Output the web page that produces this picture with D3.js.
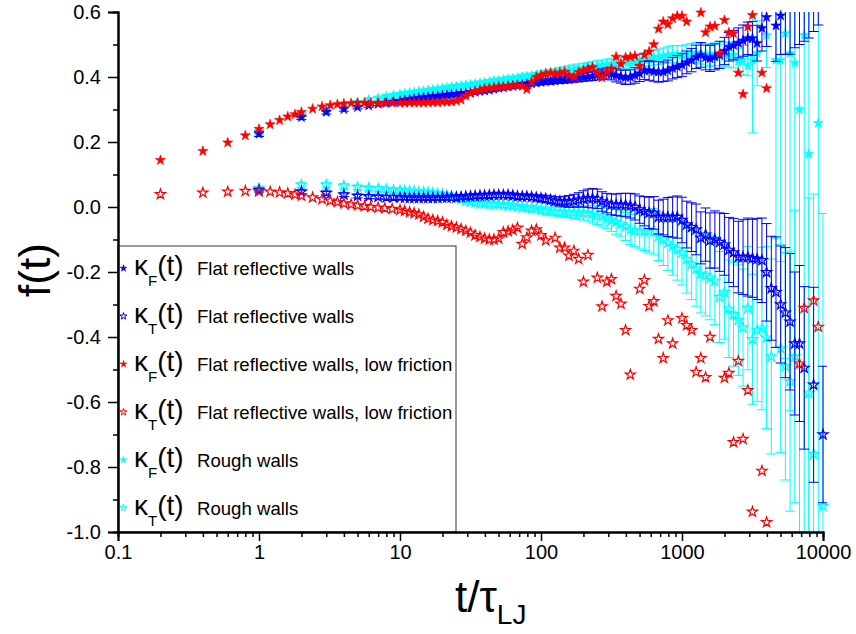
<!DOCTYPE html>
<html>
<head>
<meta charset="utf-8">
<script src="https://cdn.jsdelivr.net/npm/d3@7"></script>
<style>
  body { margin: 0; background: #fff; }
  svg text { font-family: Arial, "Liberation Sans", sans-serif; fill: #000; }
</style>
</head>
<body>
<svg id="chart" width="856" height="634"></svg>
<script>
// ---- time grids (t / tau_LJ) ----
const tEarly = [1, 2, 3, 4, 5, 6, 7, 8, 9];
const tRedEarly = [0.2, 0.4, 0.6, 0.8, 1.0, 1.2, 1.4, 1.6, 1.8, 2.0,
  2.4, 2.8, 3.2, 3.6, 4, 4.5, 5, 5.6, 6.2, 7, 7.8, 8.8];
const tLog = [
  10, 10.8, 11.7, 12.6, 13.6, 14.7, 15.8, 17.1, 18.5, 20, 21.5, 23.2, 25.1, 27.1, 29.3,
  31.6, 34.1, 36.9, 39.8, 43, 46.4, 50.1, 54.1, 58.4, 63.1, 68.1, 73.6, 79.4, 85.8, 92.6,
  100, 108, 117, 126, 136, 147, 158, 171, 185, 200, 215, 232, 251, 271, 293,
  316, 341, 369, 398, 430, 464, 501, 541, 584, 631, 681, 736, 794, 858, 926,
  1000, 1080, 1170, 1260, 1360, 1470, 1580, 1710, 1850, 2000, 2150, 2320, 2510, 2710, 2930,
  3160, 3410, 3690, 3980, 4300, 4640, 5010, 5410, 5840, 6310, 6810, 7360, 7940, 8580, 9260,
  10000];
const tWalls = tEarly.concat(tLog);      // flat reflective + rough walls
const tLowFric = tRedEarly.concat(tLog); // low friction walls

// ---- kappa_F, flat reflective walls ----
const kappaF_flat = [
  0.225, 0.276, 0.292, 0.301, 0.307, 0.312, 0.317, 0.320, 0.323,
  0.326, 0.328, 0.331, 0.333, 0.335, 0.337, 0.338, 0.340, 0.341, 0.343, 0.344, 0.346, 0.347, 0.349, 0.350,
  0.352, 0.354, 0.356, 0.358, 0.360, 0.363, 0.366, 0.368, 0.370, 0.372, 0.374, 0.376, 0.378, 0.380, 0.382,
  0.384, 0.386, 0.387, 0.389, 0.390, 0.392, 0.393, 0.395, 0.397, 0.399, 0.401, 0.403, 0.406, 0.409, 0.411,
  0.409, 0.405, 0.401, 0.399, 0.400, 0.405, 0.411, 0.420, 0.420, 0.417, 0.416, 0.416, 0.420, 0.427, 0.432,
  0.437, 0.445, 0.452, 0.462, 0.468, 0.460, 0.457, 0.462, 0.468, 0.480, 0.493, 0.498, 0.505, 0.512, 0.519,
  0.519, 0.504, 0.550, 0.584, null, 0.558, 0.589, 0.63, 0.66, 0.69, 0.72, 0.76, 0.80, 0.84, 0.88,
  0.92];
const kappaF_flatErr = [
  0.008, 0.007, 0.006, 0.006, 0.005, 0.005, 0.005, 0.005, 0.005,
  0.005, 0.005, 0.005, 0.005, 0.005, 0.005, 0.005, 0.005, 0.005, 0.005, 0.006, 0.006, 0.006, 0.006, 0.006,
  0.006, 0.006, 0.006, 0.006, 0.006, 0.007, 0.007, 0.007, 0.007, 0.007, 0.007, 0.007, 0.007, 0.007, 0.007,
  0.008, 0.008, 0.009, 0.009, 0.010, 0.010, 0.011, 0.011, 0.012, 0.012, 0.013, 0.014, 0.015, 0.016, 0.017,
  0.018, 0.020, 0.020, 0.022, 0.022, 0.024, 0.025, 0.028, 0.030, 0.030, 0.032, 0.030, 0.032, 0.033, 0.034,
  0.035, 0.035, 0.036, 0.036, 0.038, 0.038, 0.040, 0.040, 0.042, 0.042, 0.044, 0.045, 0.046, 0.048, 0.050,
  0.052, 0.055, 0.070, 0.090, null, 0.110, 0.120, 0.160, 0.190, 0.200, 0.220, 0.250, 0.280, 0.300, 0.320,
  0.300];

// ---- kappa_T, flat reflective walls ----
const kappaT_flat = [
  0.052, 0.047, 0.043, 0.038, 0.034, 0.032, 0.031, 0.030, 0.030,
  0.029, 0.029, 0.028, 0.028, 0.028, 0.028, 0.028, 0.028, 0.028, 0.029, 0.029, 0.030, 0.030, 0.031, 0.032,
  0.033, 0.034, 0.035, 0.035, 0.036, 0.037, 0.037, 0.037, 0.037, 0.035, 0.033, 0.032, 0.032, 0.031, 0.029,
  0.027, 0.025, 0.022, 0.019, 0.017, 0.017, 0.017, 0.019, 0.022, 0.025, 0.027, 0.027, 0.025, 0.017, 0.012,
  0.008, 0.007, 0.007, 0.006, 0.004, 0.000, -0.008, -0.013, -0.018, -0.018, -0.031, -0.031, -0.031, -0.031, -0.031,
  -0.040, -0.054, -0.062, -0.069, -0.095, -0.085, -0.103, -0.100, -0.108, -0.115, -0.132, -0.140, -0.154, -0.154, -0.154,
  -0.158, -0.160, -0.164, -0.201, -0.250, -0.262, -0.300, -0.325, -0.353, -0.420, -0.420, -0.495, null, -0.547, null,
  -0.700];
const kappaT_flatErr = [
  0.006, 0.006, 0.006, 0.006, 0.006, 0.006, 0.006, 0.006, 0.006,
  0.006, 0.006, 0.006, 0.006, 0.006, 0.006, 0.006, 0.006, 0.006, 0.006, 0.007, 0.007, 0.007, 0.007, 0.007,
  0.007, 0.007, 0.007, 0.007, 0.007, 0.008, 0.008, 0.008, 0.008, 0.008, 0.008, 0.008, 0.008, 0.008, 0.008,
  0.010, 0.011, 0.012, 0.013, 0.014, 0.016, 0.018, 0.020, 0.022, 0.025, 0.028, 0.030, 0.030, 0.030, 0.030,
  0.032, 0.033, 0.035, 0.036, 0.038, 0.040, 0.042, 0.045, 0.048, 0.050, 0.052, 0.055, 0.060, 0.062, 0.065,
  0.070, 0.072, 0.075, 0.078, 0.080, 0.082, 0.085, 0.088, 0.090, 0.095, 0.100, 0.105, 0.110, 0.115, 0.120,
  0.120, 0.125, 0.130, 0.150, 0.160, 0.170, 0.180, 0.200, 0.210, 0.220, 0.240, 0.250, null, 0.300, null,
  0.210];

// ---- kappa_F, flat reflective walls, low friction ----
const kappaF_lowFric = [
  0.144, 0.172, 0.198, 0.220, 0.240, 0.254, 0.267, 0.278, 0.285, 0.292, 0.302,
  0.309, 0.313, 0.316, 0.318, 0.319, 0.320, 0.320, 0.320, 0.320, 0.320, 0.320,
  0.320, 0.320, 0.321, 0.321, 0.321, 0.321, 0.322, 0.322, 0.322, 0.323, 0.323, 0.324, 0.326, 0.330, 0.342,
  0.350, 0.356, 0.360, 0.364, 0.366, 0.368, 0.370, 0.370, 0.372, 0.373, 0.375, 0.372, 0.362, 0.385, 0.400,
  0.405, 0.410, 0.413, 0.410, 0.413, 0.416, 0.406, 0.400, 0.415, 0.420, 0.425, 0.430, 0.413, 0.398, 0.416,
  0.426, 0.462, 0.440, 0.460, 0.462, 0.465, 0.434, 0.468, 0.478, 0.500, 0.548, 0.570, 0.562, 0.580, 0.588,
  0.588, 0.570, null, null, 0.598, 0.537, 0.555, 0.557, 0.473, 0.575, 0.537, 0.534, 0.413, 0.347, 0.555,
  0.590, null, 0.413, 0.365, null, null, null, null, null, null, null, null, null, null, null,
  null];

// ---- kappa_T, flat reflective walls, low friction ----
const kappaT_lowFric = [
  0.039, 0.044, 0.047, 0.049, 0.048, 0.047, 0.045, 0.042, 0.038, 0.035, 0.029,
  0.024, 0.019, 0.015, 0.011, 0.008, 0.005, 0.002, 0.000, -0.002, -0.004, -0.006,
  -0.009, -0.012, -0.016, -0.019, -0.023, -0.030, -0.036, -0.040, -0.043, -0.047, -0.055, -0.059, -0.063, -0.068, -0.073,
  -0.079, -0.087, -0.092, -0.097, -0.100, -0.100, -0.097, -0.078, -0.075, -0.071, -0.064, -0.114, -0.094, -0.073, -0.069,
  -0.087, -0.103, null, -0.095, -0.125, -0.125, -0.150, -0.135, -0.160, -0.230, -0.148, null, -0.218, -0.306, -0.230,
  -0.222, -0.274, -0.298, -0.379, -0.516, null, -0.252, -0.225, -0.305, -0.290, -0.406, -0.465, -0.349, -0.420, null,
  -0.342, -0.364, -0.379, -0.508, -0.465, -0.524, -0.400, null, null, -0.526, -0.511, -0.724, -0.474, -0.714, -0.564,
  -0.938, null, -0.812, -0.970, null, null, null, null, null, null, -0.482, -0.311, null, -0.288, -0.369,
  null];

// ---- kappa_F, rough walls ----
const kappaF_rough = [
  0.230, 0.285, 0.300, 0.312, 0.322, 0.330, 0.335, 0.340, 0.344,
  0.347, 0.349, 0.351, 0.353, 0.355, 0.357, 0.359, 0.361, 0.363, 0.365, 0.367, 0.369, 0.371, 0.373, 0.375,
  0.377, 0.379, 0.381, 0.383, 0.385, 0.387, 0.389, 0.391, 0.393, 0.395, 0.397, 0.400, 0.402, 0.404, 0.406,
  0.409, 0.411, 0.413, 0.415, 0.418, 0.420, 0.423, 0.425, 0.427, 0.429, 0.431, 0.433, 0.435, 0.437, 0.439,
  0.440, 0.441, 0.442, 0.444, 0.446, 0.448, 0.450, 0.453, 0.456, 0.459, 0.462, 0.465, 0.468, 0.470, 0.470,
  0.468, 0.470, 0.473, 0.475, 0.472, 0.470, 0.466, 0.470, 0.465, 0.470, 0.468, 0.468, 0.447, 0.452, 0.434,
  0.452, 0.473, null, 0.529, null, 0.452, 0.452, 0.534, 0.473, 0.444, 0.300, 0.529, 0.163, null, 0.258,
  null];
const kappaF_roughErr = [
  0.008, 0.007, 0.006, 0.006, 0.006, 0.006, 0.006, 0.006, 0.006,
  0.006, 0.006, 0.006, 0.006, 0.006, 0.006, 0.006, 0.006, 0.006, 0.006, 0.007, 0.007, 0.007, 0.007, 0.007,
  0.007, 0.007, 0.007, 0.007, 0.007, 0.008, 0.008, 0.008, 0.008, 0.008, 0.008, 0.008, 0.008, 0.008, 0.008,
  0.009, 0.009, 0.010, 0.010, 0.011, 0.011, 0.012, 0.012, 0.013, 0.013, 0.014, 0.014, 0.015, 0.015, 0.016,
  0.016, 0.017, 0.018, 0.018, 0.019, 0.020, 0.020, 0.021, 0.022, 0.022, 0.023, 0.024, 0.025, 0.026, 0.027,
  0.028, 0.029, 0.030, 0.031, 0.032, 0.033, 0.034, 0.035, 0.036, 0.037, 0.038, 0.040, 0.042, 0.045, 0.030,
  0.224, 0.100, null, 0.100, null, 0.550, 0.620, 1.000, 1.100, 0.900, 1.300, 1.600, 1.200, null, 1.500,
  null];

// ---- kappa_T, rough walls ----
const kappaT_rough = [
  0.057, 0.068, 0.068, 0.065, 0.061, 0.058, 0.056, 0.054, 0.052,
  0.051, 0.050, 0.049, 0.048, 0.047, 0.046, 0.045, 0.043, 0.041, 0.039, 0.036, 0.033, 0.028, 0.024, 0.020,
  0.016, 0.013, 0.011, 0.010, 0.009, 0.008, 0.007, 0.006, 0.005, 0.003, 0.001, -0.001, -0.003, -0.004, -0.006,
  -0.009, -0.011, -0.013, -0.014, -0.015, -0.016, -0.017, -0.017, -0.018, -0.018, -0.019, -0.021, -0.026, -0.029, -0.035,
  -0.040, -0.046, -0.052, -0.060, -0.069, -0.072, -0.074, -0.074, -0.074, -0.075, -0.090, -0.100, -0.110, -0.120, -0.130,
  -0.140, -0.160, -0.175, -0.190, -0.206, -0.210, -0.217, -0.227, -0.277, -0.262, -0.313, -0.330, -0.348, -0.371, -0.311,
  -0.407, -0.379, -0.374, -0.402, -0.460, null, -0.435, -0.490, -0.536, -0.460, null, null, -0.572, -0.760, null,
  -0.920];
const kappaT_roughErr = [
  0.007, 0.007, 0.007, 0.007, 0.007, 0.007, 0.007, 0.007, 0.007,
  0.006, 0.006, 0.006, 0.006, 0.006, 0.006, 0.006, 0.006, 0.006, 0.006, 0.007, 0.007, 0.007, 0.007, 0.007,
  0.007, 0.007, 0.007, 0.007, 0.007, 0.008, 0.008, 0.008, 0.008, 0.008, 0.008, 0.008, 0.008, 0.008, 0.008,
  0.010, 0.011, 0.012, 0.013, 0.014, 0.015, 0.016, 0.018, 0.020, 0.022, 0.024, 0.026, 0.028, 0.030, 0.032,
  0.035, 0.038, 0.040, 0.043, 0.046, 0.050, 0.055, 0.060, 0.065, 0.070, 0.075, 0.080, 0.085, 0.090, 0.095,
  0.100, 0.105, 0.110, 0.115, 0.120, 0.125, 0.130, 0.135, 0.140, 0.145, 0.150, 0.160, 0.170, 0.180, 0.190,
  0.200, 0.220, 0.250, 0.280, 0.300, null, 0.320, 0.350, 0.400, 0.450, null, null, 0.600, 0.800, null,
  0.900];

// ---- axis ticks ----
const xTicks = [0.1, 1, 10, 100, 1000, 10000];
const xTickLabels = ["0.1", "1", "10", "100", "1000", "10000"];
const yTicks = [-1.0, -0.8, -0.6, -0.4, -0.2, 0.0, 0.2, 0.4, 0.6];
const yTickLabels = ["-1.0", "-0.8", "-0.6", "-0.4", "-0.2", "0.0", "0.2", "0.4", "0.6"];
const yMinorTicks = [-0.9, -0.7, -0.5, -0.3, -0.1, 0.1, 0.3, 0.5];

// ---- legend entries ----
const legendSub = ["F", "T", "F", "T", "F", "T"];
const legendText = ["Flat reflective walls", "Flat reflective walls",
  "Flat reflective walls, low friction", "Flat reflective walls, low friction",
  "Rough walls", "Rough walls"];

const BLUE = "#0000ff", RED = "#ff0000", CYAN = "#00ffff";

const svg = d3.select("#chart");
const plotL = 118, plotR = 823, plotT = 12, plotB = 532;

const x = d3.scaleLog().domain([0.1, 10000]).range([plotL, plotR]);
const y = d3.scaleLinear().domain([-1, 0.6]).range([plotB, plotT]);

svg.append("defs").append("clipPath").attr("id", "plotClip")
  .append("rect").attr("x", plotL).attr("y", plotT)
  .attr("width", plotR - plotL + 4).attr("height", plotB - plotT);

const starPath = d3.symbol().type(d3.symbolStar).size(32)();
const legendStar = d3.symbol().type(d3.symbolStar).size(15)();

function rows(times, vals, errs) {
  return times.map((t, i) => ({ t, v: vals[i], e: errs ? errs[i] : null }))
    .filter(d => d.v !== null && d.v !== undefined);
}

function drawErrors(times, vals, errs, color) {
  const data = rows(times, vals, errs).filter(d => d.e !== null);
  svg.append("g").attr("clip-path", "url(#plotClip)")
    .attr("stroke", color).attr("stroke-width", 1).attr("fill", "none")
    .selectAll("path").data(data).join("path")
    .attr("d", d => {
      const cx = x(d.t), y0 = y(d.v - d.e), y1 = y(d.v + d.e);
      return `M${cx},${y0}V${y1}M${cx - 5},${y0}H${cx + 5}M${cx - 5},${y1}H${cx + 5}`;
    });
}

function drawMarkers(times, vals, color, filled) {
  const data = rows(times, vals, null).filter(d => d.v >= -1.0 && d.v <= 0.6);
  svg.append("g").selectAll("path").data(data).join("path")
    .attr("transform", d => `translate(${x(d.t)},${y(d.v)})`)
    .attr("d", starPath)
    .attr("fill", filled ? color : "none")
    .attr("stroke", color)
    .attr("stroke-width", filled ? 0.6 : 1.2);
}

// rough walls (drawn underneath)
drawErrors(tWalls, kappaF_rough, kappaF_roughErr, CYAN);
drawErrors(tWalls, kappaT_rough, kappaT_roughErr, CYAN);
drawMarkers(tWalls, kappaF_rough, CYAN, true);
drawMarkers(tWalls, kappaT_rough, CYAN, false);
// flat reflective walls
drawErrors(tWalls, kappaF_flat, kappaF_flatErr, BLUE);
drawErrors(tWalls, kappaT_flat, kappaT_flatErr, BLUE);
drawMarkers(tWalls, kappaF_flat, BLUE, true);
drawMarkers(tWalls, kappaT_flat, BLUE, false);
// low friction walls
drawMarkers(tLowFric, kappaF_lowFric, RED, true);
drawMarkers(tLowFric, kappaT_lowFric, RED, false);

// ---- legend ----
const legend = svg.append("g");
legend.append("rect").attr("x", plotL).attr("y", 246)
  .attr("width", 456 - plotL).attr("height", plotB - 246)
  .attr("fill", "#fff").attr("stroke", "#333").attr("stroke-width", 1);
const legendColors = [BLUE, BLUE, RED, RED, CYAN, CYAN];
const legendFilled = [true, false, true, false, true, false];
legendText.forEach((txt, i) => {
  const cy = 268.3 + i * 47.9;
  legend.append("path").attr("d", legendStar)
    .attr("transform", `translate(123.5,${cy})`)
    .attr("fill", legendFilled[i] ? legendColors[i] : "none")
    .attr("stroke", legendColors[i]).attr("stroke-width", legendFilled[i] ? 0.5 : 1);
  const lab = legend.append("text").attr("x", 134).attr("y", cy + 7).attr("font-size", 28);
  lab.append("tspan").text("κ");
  lab.append("tspan").attr("font-size", 15).attr("dy", 11).text(legendSub[i]);
  lab.append("tspan").attr("dy", -11).text("(t)");
  legend.append("text").attr("x", 197).attr("y", cy + 7)
    .attr("font-size", 18.6).text(txt);
});

// ---- axes ----
const gx = svg.append("g").attr("transform", `translate(0,${plotB})`);
const xMinor = [];
for (let dec = 0.1; dec < 10000; dec *= 10) {
  for (let k = 2; k <= 9; k++) xMinor.push(+(dec * k).toPrecision(3));
}
gx.call(d3.axisBottom(x).tickValues(xMinor).tickSize(5).tickFormat(""));
gx.call(g => g.append("g").call(d3.axisBottom(x).tickValues(xTicks).tickSize(9)
  .tickPadding(4).tickFormat((d, i) => xTickLabels[i])));
gx.selectAll(".domain").attr("stroke", "#000").attr("stroke-width", 2);
gx.selectAll(".tick line").attr("stroke", "#000").attr("stroke-width", 1.5);
gx.selectAll("text").attr("font-size", 20).attr("font-family", "Arial, Liberation Sans, sans-serif").attr("fill", "#000");

const gy = svg.append("g").attr("transform", `translate(${plotL},0)`);
gy.call(d3.axisLeft(y).tickValues(yMinorTicks).tickSize(5).tickFormat(""));
gy.call(g => g.append("g").call(d3.axisLeft(y).tickValues(yTicks).tickSize(10)
  .tickPadding(7).tickFormat((d, i) => yTickLabels[i])));
gy.selectAll(".domain").attr("stroke", "#000").attr("stroke-width", 2);
gy.selectAll(".tick line").attr("stroke", "#000").attr("stroke-width", 1.5);
gy.selectAll("text").attr("font-size", 20).attr("font-family", "Arial, Liberation Sans, sans-serif").attr("fill", "#000");

// ---- axis titles ----
const xt = svg.append("text").attr("x", 455).attr("y", 612).attr("font-size", 44);
xt.append("tspan").text("t/τ");
xt.append("tspan").attr("font-size", 28).attr("dy", 12).text("LJ");

svg.append("text").attr("transform", "translate(50,270) rotate(-90)")
  .attr("text-anchor", "middle").attr("font-size", 44).text("f(t)");
</script>
</body>
</html>
